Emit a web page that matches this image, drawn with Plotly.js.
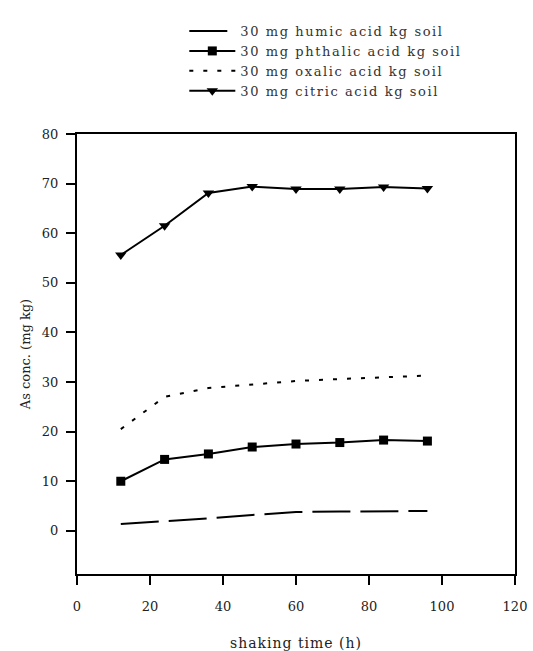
<!DOCTYPE html>
<html>
<head>
<meta charset="utf-8">
<script src="https://cdn.plot.ly/plotly-3.0.1.min.js"></script>
<style>
html,body{margin:0;padding:0;background:#fff;}
#chart{width:533px;height:651px;}
#chart .legendtext{letter-spacing:1.6px;}
#chart .legend, #chart .legend *{clip-path:none !important;}
#chart .g-xtitle text{letter-spacing:1px;}
</style>
</head>
<body>
<div id="chart"></div>
<script>
const time = [12, 24, 36, 48, 60, 72, 84, 96];
const humic = [1.4, 1.9, 2.5, 3.2, 3.8, 3.9, 3.9, 4.0];
const phthalic = [10.0, 14.4, 15.5, 16.9, 17.5, 17.8, 18.3, 18.1];
const oxalic = [20.5, 27.0, 28.8, 29.5, 30.2, 30.6, 31.0, 31.3];
const citric = [55.6, 61.5, 68.1, 69.4, 68.9, 68.9, 69.3, 69.0];
const names = [
  "30 mg humic acid kg soil",
  "30 mg phthalic acid kg soil",
  "30 mg oxalic acid kg soil",
  "30 mg citric acid kg soil"
];
const xTicks = [0, 20, 40, 60, 80, 100, 120];
const yTicks = [0, 10, 20, 30, 40, 50, 60, 70, 80];

const font = "DejaVu Serif, Liberation Serif, serif";
const traces = [
  {x: time, y: humic, name: names[0], mode: "lines",
   line: {color: "#000", width: 2, dash: "38px,10px"}},
  {x: time, y: phthalic, name: names[1], mode: "lines+markers",
   line: {color: "#000", width: 2}, marker: {symbol: "square", size: 9, color: "#000"}},
  {x: time, y: oxalic, name: names[2], mode: "lines",
   line: {color: "#000", width: 2, dash: "4px,10px"}},
  {x: time, y: citric, name: names[3], mode: "lines+markers",
   line: {color: "#000", width: 2}, marker: {symbol: "triangle-down", size: 10, color: "#000"}}
];
const layout = {
  width: 533, height: 651,
  margin: {l: 77, r: 18, t: 134, b: 77},
  paper_bgcolor: "#fff", plot_bgcolor: "#fff",
  font: {family: font, color: "#222", size: 13},
  showlegend: true,
  legend: {x: 0.245, y: 1.268, xanchor: "left", yanchor: "top",
           font: {family: font, size: 13, color: "#333"},
           bgcolor: "rgba(0,0,0,0)", tracegroupgap: 0, itemwidth: 46},
  xaxis: {range: [0, 120], tickvals: xTicks, ticktext: xTicks.map(String),
          showgrid: false, zeroline: false, showline: true, linecolor: "#000", linewidth: 2,
          mirror: true, ticks: "outside", ticklen: 9, tickwidth: 2, tickcolor: "#000",
          ticklabelstandoff: 10,
          tickfont: {family: font, size: 13, color: "#222"},
          title: {text: "shaking time (h)", font: {family: font, size: 14, color: "#222"}, standoff: 27}},
  yaxis: {range: [-8.7, 80], tickvals: yTicks, ticktext: yTicks.map(String),
          showgrid: false, zeroline: false, showline: true, linecolor: "#000", linewidth: 2,
          mirror: true, ticks: "outside", ticklen: 9, tickwidth: 2, tickcolor: "#000",
          ticklabelstandoff: 5,
          tickfont: {family: font, size: 13, color: "#222"},
          title: {text: "As conc. (mg kg)", font: {family: font, size: 13, color: "#222"}, standoff: 8}}
};
Plotly.newPlot("chart", traces, layout, {displayModeBar: false, staticPlot: true});
</script>
</body>
</html>
